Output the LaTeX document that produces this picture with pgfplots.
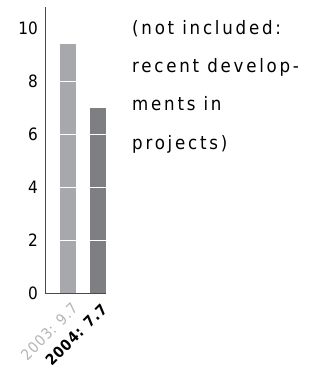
\documentclass[border=0pt]{standalone}
\usepackage{fontspec}
\setmainfont{DejaVu Sans Condensed}
\newfontfamily\spaced[LetterSpace=15]{DejaVu Sans Condensed}
\newfontfamily\lspaced[LetterSpace=6]{DejaVu Sans Condensed}
\usepackage{pgfplots}
\pgfplotsset{compat=1.18}
\definecolor{barA}{HTML}{A7A8AC}
\definecolor{barB}{HTML}{7E7F83}
\definecolor{labA}{HTML}{B4B4B6}
\definecolor{axline}{HTML}{4A4A4A}
\begin{document}
\begin{tikzpicture}
\useasboundingbox (0,0) rectangle (312pt,374pt);
\begin{axis}[
  at={(45pt,81pt)}, anchor=south west,
  scale only axis, width=61pt, height=286pt,
  xmin=-0.767, xmax=1.267, ymin=0, ymax=10.8,
  axis x line=bottom, axis y line=left,
  axis line style={-, axline, line width=0.9pt},
  ytick={0,2,4,6,8,10}, major tick length=0pt,
  xtick={0,1},
  xticklabels={\textcolor{labA}{2003: 9.7},\textbf{2004: 7.7}},
  xticklabel style={rotate=45, anchor=east, font=\lspaced\fontsize{15}{15}\selectfont, inner sep=0pt, xshift=-4pt, yshift=-14pt},
  yticklabel style={font=\fontsize{17}{17}\selectfont, text=black, inner sep=0pt, xshift=-7pt},
  /pgf/number format/assume math mode=true,
  ymajorgrids, grid style={white, line width=0.8pt},
  axis on top,
  ybar, bar width=16pt, bar shift=0pt,
]
\addplot[fill=barA, draw=none] coordinates {(0,9.4)};
\addplot[fill=barB, draw=none] coordinates {(1,7.0)};
\end{axis}
\node[anchor=north west, align=left, inner sep=0pt, font=\spaced\fontsize{18.5}{38.3}\selectfont] at (132pt,354pt)
{(not included:\\recent develop-\\ments in\\projects)};
\end{tikzpicture}
\end{document}
